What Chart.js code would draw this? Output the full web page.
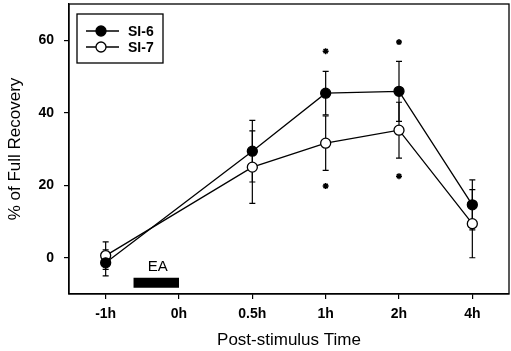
<!DOCTYPE html>
<html><head><meta charset="utf-8">
<script src="https://cdn.jsdelivr.net/npm/chart.js@4/dist/chart.umd.min.js"></script>
<style>html,body{margin:0;padding:0;background:#fff}#wrap{width:511px;height:351px}</style>
</head><body><div id="wrap"><canvas id="c" width="511" height="351"></canvas></div>
<script>
const categories = ['-1h', '0h', '0.5h', '1h', '2h', '4h'];
const si6 = [-1.4, null, 29.4, 45.4, 45.9, 14.6];
const si6Err = [3.6, null, 8.5, 6.0, 8.3, 6.9];
const si7 = [0.6, null, 25.0, 31.6, 35.2, 9.4];
const si7Err = [3.8, null, 10.0, 7.5, 7.7, 9.4];
const starX = [3, 4, 3, 4];
const starY = [57.0, 59.5, 19.8, 22.5];
const eaX = [0.38, 1.0];
const eaY = -6.9;
const eaLabelPos = [0.71, -2.6];
const yTicks = [0, 20, 40, 60];

const FONT = '"Liberation Sans", Arial, sans-serif';
const pts = arr => arr.map((v, i) => ({x: i, y: v}));

const errPlugin = {
  id: 'err',
  beforeDatasetsDraw(chart) {
    const {ctx, scales: {x, y}} = chart;
    ctx.save();
    ctx.strokeStyle = '#000';
    ctx.lineWidth = 1.2;
    [[si6, si6Err], [si7, si7Err]].forEach(([vals, errs]) => {
      vals.forEach((v, i) => {
        if (v === null) return;
        const px = x.getPixelForValue(i);
        const t = y.getPixelForValue(v + errs[i]);
        const b = y.getPixelForValue(v - errs[i]);
        ctx.beginPath();
        ctx.moveTo(px, t); ctx.lineTo(px, b);
        ctx.moveTo(px - 3, t); ctx.lineTo(px + 3, t);
        ctx.moveTo(px - 3, b); ctx.lineTo(px + 3, b);
        ctx.stroke();
      });
    });
    ctx.restore();
  },
  afterDraw(chart) {
    const {ctx, chartArea: a, scales: {x, y}} = chart;
    ctx.save();
    ctx.strokeStyle = '#000';
    ctx.lineWidth = 1.3;
    ctx.strokeRect(a.left, a.top, a.right - a.left, a.bottom - a.top);
    // EA label
    ctx.fillStyle = '#000';
    ctx.font = '15px ' + FONT;
    ctx.textAlign = 'center';
    ctx.textBaseline = 'middle';
    ctx.fillText('EA', x.getPixelForValue(eaLabelPos[0]), y.getPixelForValue(eaLabelPos[1]));
    // legend
    const lx = 77, ly = 14, lw = 86, lh = 49;
    ctx.fillStyle = '#fff';
    ctx.fillRect(lx, ly, lw, lh);
    ctx.lineWidth = 1.3;
    ctx.strokeRect(lx, ly, lw, lh);
    const items = [['SI-6', '#000', 31], ['SI-7', '#fff', 47]];
    items.forEach(([label, fill, yy]) => {
      ctx.lineWidth = 1.3;
      ctx.beginPath(); ctx.moveTo(86, yy); ctx.lineTo(119, yy); ctx.stroke();
      ctx.beginPath(); ctx.arc(101, yy, 5, 0, Math.PI * 2);
      ctx.fillStyle = fill; ctx.fill(); ctx.stroke();
      ctx.fillStyle = '#000';
      ctx.font = 'bold 14px ' + FONT;
      ctx.textAlign = 'left';
      ctx.fillText(label, 128, yy + 1);
    });
    ctx.restore();
  }
};

new Chart(document.getElementById('c'), {
  type: 'line',
  data: {
    datasets: [
      {label: 'EA', data: eaX.map(v => ({x: v, y: eaY})), borderColor: '#000', borderWidth: 10,
       borderCapStyle: 'butt', pointRadius: 0, order: 5},
      {label: 'SI-7', data: pts(si7), borderColor: '#000', backgroundColor: '#fff', borderWidth: 1.3,
       pointRadius: 5, pointBorderWidth: 1.3, pointBackgroundColor: '#fff', spanGaps: true, order: 2},
      {label: 'SI-6', data: pts(si6), borderColor: '#000', backgroundColor: '#000', borderWidth: 1.3,
       pointRadius: 5, pointBorderWidth: 1.3, pointBackgroundColor: '#000', spanGaps: true, order: 1},
      {label: 'stars', data: starX.map((v, i) => ({x: v, y: starY[i]})), showLine: false,
       pointStyle: 'star', pointRadius: 3, pointBorderWidth: 1.5, borderColor: '#000', backgroundColor: '#000', order: 0}
    ]
  },
  options: {
    responsive: false,
    animation: false,
    events: [],
    layout: {autoPadding: false, padding: {left: 0, right: 2, top: 4, bottom: 0}},
    plugins: {legend: {display: false}, tooltip: {enabled: false}},
    scales: {
      x: {
        type: 'linear', min: -0.5, max: 5.5,
        afterBuildTicks: s => { s.ticks = categories.map((c, i) => ({value: i})); },
        afterFit: s => { s.height = 57; s.paddingLeft = 0; s.paddingRight = 0; },
        ticks: {callback: v => categories[v], color: '#000', font: {family: FONT, size: 14, weight: 'bold'}, padding: 7, maxRotation: 0},
        grid: {drawOnChartArea: false, drawTicks: true, tickLength: 5, color: '#000', lineWidth: 1.2},
        border: {color: '#000', width: 1.3},
        title: {display: true, text: 'Post-stimulus Time', color: '#000', font: {family: FONT, size: 17}, padding: {top: 5, bottom: 0}}
      },
      y: {
        min: -10, max: 70,
        afterBuildTicks: s => { s.ticks = yTicks.map(v => ({value: v})); },
        afterFit: s => { s.width = 69; s.paddingTop = 0; s.paddingBottom = 0; },
        ticks: {color: '#000', font: {family: FONT, size: 14, weight: 'bold'}, padding: 10},
        grid: {drawOnChartArea: false, drawTicks: true, tickLength: 5, color: '#000', lineWidth: 1.2},
        border: {color: '#000', width: 1.3},
        title: {display: true, text: '% of Full Recovery', color: '#000', font: {family: FONT, size: 17}, padding: {top: 5, bottom: 0}}
      }
    }
  },
  plugins: [errPlugin]
});
</script></body></html>
